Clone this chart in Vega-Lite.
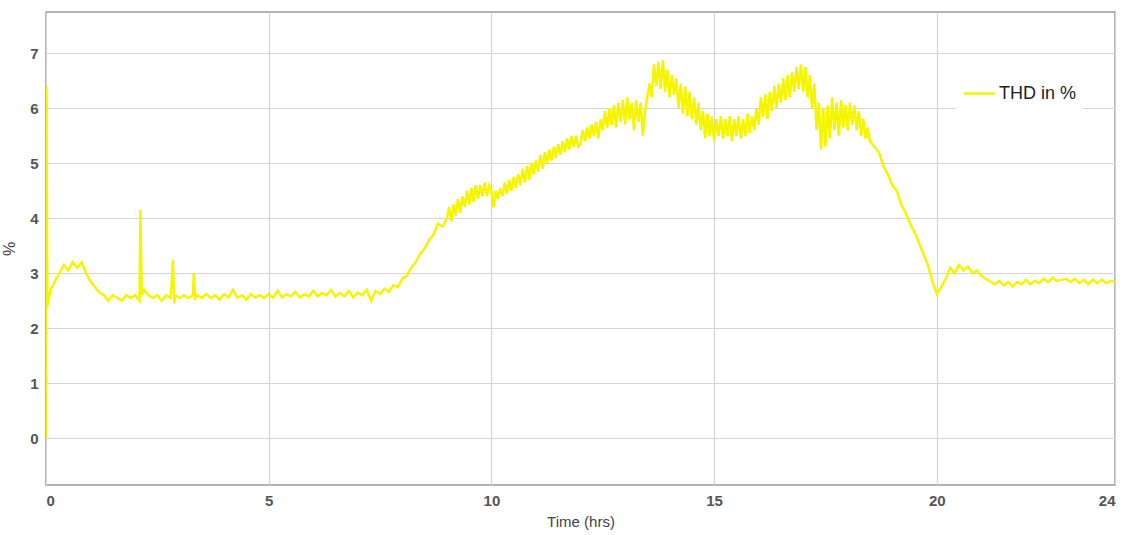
{
  "$schema": "https://vega.github.io/schema/vega-lite/v6.json",
  "autosize": {"type": "none"},
  "width": 1069,
  "height": 473,
  "padding": {"left": 46, "top": 12, "right": 13, "bottom": 50},
  "background": "white",
  "config": {
    "view": {"stroke": "#9a9a9a", "strokeWidth": 1.5},
    "font": "Liberation Sans"
  },
  "data": {"values": [
    {"t":0,"v":0},{"t":0.01,"v":6.4},{"t":0.03,"v":2.4},{"t":0.1,"v":2.7},{"t":0.2,"v":2.85},{"t":0.3,"v":3.0},{"t":0.4,"v":3.15},{"t":0.5,"v":3.05},{"t":0.6,"v":3.2},{"t":0.7,"v":3.1},{"t":0.8,"v":3.2},{"t":0.9,"v":3.0},
    {"t":1.0,"v":2.85},{"t":1.1,"v":2.75},{"t":1.2,"v":2.65},{"t":1.3,"v":2.6},{"t":1.4,"v":2.5},{"t":1.5,"v":2.6},{"t":1.6,"v":2.55},{"t":1.7,"v":2.5},{"t":1.8,"v":2.6},{"t":1.9,"v":2.55},
    {"t":2.0,"v":2.6},{"t":2.1,"v":2.5},{"t":2.12,"v":4.15},{"t":2.15,"v":2.6},{"t":2.2,"v":2.7},{"t":2.3,"v":2.6},{"t":2.4,"v":2.55},{"t":2.5,"v":2.6},{"t":2.6,"v":2.5},{"t":2.7,"v":2.6},{"t":2.8,"v":2.55},{"t":2.85,"v":3.25},{"t":2.88,"v":2.45},{"t":2.9,"v":2.6},
    {"t":3.0,"v":2.55},{"t":3.1,"v":2.6},{"t":3.2,"v":2.55},{"t":3.3,"v":2.6},{"t":3.32,"v":3.0},{"t":3.35,"v":2.55},{"t":3.4,"v":2.6},{"t":3.5,"v":2.55},{"t":3.6,"v":2.62},{"t":3.7,"v":2.55},{"t":3.8,"v":2.6},{"t":3.9,"v":2.52},
    {"t":4.0,"v":2.62},{"t":4.1,"v":2.56},{"t":4.2,"v":2.7},{"t":4.3,"v":2.55},{"t":4.4,"v":2.6},{"t":4.5,"v":2.52},{"t":4.6,"v":2.62},{"t":4.7,"v":2.56},{"t":4.8,"v":2.6},{"t":4.9,"v":2.55},
    {"t":5.0,"v":2.62},{"t":5.1,"v":2.55},{"t":5.2,"v":2.68},{"t":5.3,"v":2.56},{"t":5.4,"v":2.62},{"t":5.5,"v":2.58},{"t":5.6,"v":2.66},{"t":5.7,"v":2.56},{"t":5.8,"v":2.62},{"t":5.9,"v":2.58},
    {"t":6.0,"v":2.68},{"t":6.1,"v":2.58},{"t":6.2,"v":2.64},{"t":6.3,"v":2.6},{"t":6.4,"v":2.7},{"t":6.5,"v":2.58},{"t":6.6,"v":2.64},{"t":6.7,"v":2.58},{"t":6.8,"v":2.68},{"t":6.9,"v":2.56},
    {"t":7.0,"v":2.65},{"t":7.1,"v":2.6},{"t":7.2,"v":2.7},{"t":7.3,"v":2.5},{"t":7.4,"v":2.68},{"t":7.5,"v":2.62},{"t":7.6,"v":2.72},{"t":7.7,"v":2.66},{"t":7.8,"v":2.78},{"t":7.9,"v":2.75},
    {"t":8.0,"v":2.9},{"t":8.1,"v":2.95},{"t":8.2,"v":3.1},{"t":8.3,"v":3.2},{"t":8.4,"v":3.35},{"t":8.5,"v":3.45},{"t":8.6,"v":3.6},{"t":8.7,"v":3.7},{"t":8.8,"v":3.9},{"t":8.9,"v":3.85},
    {"t":9.0,"v":4.0},{"t":9.05,"v":4.2},{"t":9.1,"v":3.95},{"t":9.15,"v":4.25},{"t":9.2,"v":4.05},{"t":9.25,"v":4.35},{"t":9.3,"v":4.1},{"t":9.35,"v":4.4},{"t":9.4,"v":4.2},{"t":9.45,"v":4.5},
    {"t":9.5,"v":4.25},{"t":9.55,"v":4.55},{"t":9.6,"v":4.3},{"t":9.65,"v":4.6},{"t":9.7,"v":4.35},{"t":9.75,"v":4.6},{"t":9.8,"v":4.4},{"t":9.85,"v":4.65},{"t":9.9,"v":4.4},{"t":9.95,"v":4.6},
    {"t":10.0,"v":4.5},{"t":10.05,"v":4.2},{"t":10.1,"v":4.5},{"t":10.15,"v":4.35},{"t":10.2,"v":4.55},{"t":10.25,"v":4.4},{"t":10.3,"v":4.65},{"t":10.35,"v":4.45},{"t":10.4,"v":4.7},{"t":10.45,"v":4.5},
    {"t":10.5,"v":4.75},{"t":10.55,"v":4.55},{"t":10.6,"v":4.8},{"t":10.65,"v":4.6},{"t":10.7,"v":4.9},{"t":10.75,"v":4.65},{"t":10.8,"v":4.95},{"t":10.85,"v":4.7},{"t":10.9,"v":5.0},{"t":10.95,"v":4.8},
    {"t":11.0,"v":5.05},{"t":11.05,"v":4.85},{"t":11.1,"v":5.15},{"t":11.15,"v":4.9},{"t":11.2,"v":5.2},{"t":11.25,"v":5.0},{"t":11.3,"v":5.25},{"t":11.35,"v":5.05},{"t":11.4,"v":5.3},{"t":11.45,"v":5.1},
    {"t":11.5,"v":5.35},{"t":11.55,"v":5.15},{"t":11.6,"v":5.4},{"t":11.65,"v":5.2},{"t":11.7,"v":5.45},{"t":11.75,"v":5.25},{"t":11.8,"v":5.5},{"t":11.85,"v":5.3},{"t":11.9,"v":5.5},{"t":11.95,"v":5.3},
    {"t":12.0,"v":5.35},{"t":12.05,"v":5.6},{"t":12.1,"v":5.4},{"t":12.15,"v":5.65},{"t":12.2,"v":5.45},{"t":12.25,"v":5.7},{"t":12.3,"v":5.5},{"t":12.35,"v":5.75},{"t":12.4,"v":5.45},{"t":12.45,"v":5.8},
    {"t":12.5,"v":5.6},{"t":12.55,"v":5.95},{"t":12.6,"v":5.65},{"t":12.65,"v":6.0},{"t":12.7,"v":5.7},{"t":12.75,"v":6.05},{"t":12.8,"v":5.65},{"t":12.85,"v":6.1},{"t":12.9,"v":5.75},{"t":12.95,"v":6.15},
    {"t":13.0,"v":5.7},{"t":13.05,"v":6.2},{"t":13.1,"v":5.8},{"t":13.15,"v":6.1},{"t":13.2,"v":5.6},{"t":13.25,"v":6.15},{"t":13.3,"v":5.75},{"t":13.35,"v":6.1},{"t":13.4,"v":5.5},{"t":13.45,"v":5.95},
    {"t":13.5,"v":6.2},{"t":13.55,"v":6.45},{"t":13.6,"v":6.2},{"t":13.65,"v":6.8},{"t":13.7,"v":6.4},{"t":13.75,"v":6.85},{"t":13.8,"v":6.35},{"t":13.85,"v":6.87},{"t":13.9,"v":6.3},{"t":13.95,"v":6.7},
    {"t":14.0,"v":6.2},{"t":14.05,"v":6.6},{"t":14.1,"v":6.25},{"t":14.15,"v":6.55},{"t":14.2,"v":6.0},{"t":14.25,"v":6.45},{"t":14.3,"v":5.9},{"t":14.35,"v":6.4},{"t":14.4,"v":5.85},{"t":14.45,"v":6.3},
    {"t":14.5,"v":5.8},{"t":14.55,"v":6.2},{"t":14.6,"v":5.7},{"t":14.65,"v":6.1},{"t":14.7,"v":5.6},{"t":14.75,"v":5.95},{"t":14.8,"v":5.45},{"t":14.85,"v":5.9},{"t":14.9,"v":5.5},{"t":14.95,"v":5.85},
    {"t":15.0,"v":5.4},{"t":15.05,"v":5.8},{"t":15.1,"v":5.5},{"t":15.15,"v":5.85},{"t":15.2,"v":5.45},{"t":15.25,"v":5.8},{"t":15.3,"v":5.5},{"t":15.35,"v":5.85},{"t":15.4,"v":5.4},{"t":15.45,"v":5.8},
    {"t":15.5,"v":5.5},{"t":15.55,"v":5.85},{"t":15.6,"v":5.45},{"t":15.65,"v":5.8},{"t":15.7,"v":5.5},{"t":15.75,"v":5.9},{"t":15.8,"v":5.55},{"t":15.85,"v":5.85},{"t":15.9,"v":5.6},{"t":15.95,"v":6.0},
    {"t":16.0,"v":5.7},{"t":16.05,"v":6.2},{"t":16.1,"v":5.85},{"t":16.15,"v":6.25},{"t":16.2,"v":5.8},{"t":16.25,"v":6.3},{"t":16.3,"v":5.95},{"t":16.35,"v":6.4},{"t":16.4,"v":6.0},{"t":16.45,"v":6.45},
    {"t":16.5,"v":6.1},{"t":16.55,"v":6.55},{"t":16.6,"v":6.15},{"t":16.65,"v":6.6},{"t":16.7,"v":6.2},{"t":16.75,"v":6.65},{"t":16.8,"v":6.3},{"t":16.85,"v":6.75},{"t":16.9,"v":6.35},{"t":16.95,"v":6.8},
    {"t":17.0,"v":6.3},{"t":17.05,"v":6.75},{"t":17.1,"v":6.2},{"t":17.15,"v":6.6},{"t":17.2,"v":6.0},{"t":17.25,"v":6.45},{"t":17.3,"v":5.6},{"t":17.35,"v":6.1},{"t":17.4,"v":5.25},{"t":17.45,"v":6.0},
    {"t":17.5,"v":5.3},{"t":17.55,"v":6.05},{"t":17.6,"v":5.45},{"t":17.65,"v":6.2},{"t":17.7,"v":5.6},{"t":17.75,"v":6.1},{"t":17.8,"v":5.5},{"t":17.85,"v":6.15},{"t":17.9,"v":5.65},{"t":17.95,"v":6.05},
    {"t":18.0,"v":5.6},{"t":18.05,"v":6.1},{"t":18.1,"v":5.7},{"t":18.15,"v":6.05},{"t":18.2,"v":5.6},{"t":18.25,"v":5.95},{"t":18.3,"v":5.5},{"t":18.35,"v":5.8},{"t":18.4,"v":5.45},{"t":18.45,"v":5.65},
    {"t":18.5,"v":5.4},{"t":18.6,"v":5.3},{"t":18.7,"v":5.2},{"t":18.8,"v":4.95},{"t":18.9,"v":4.8},
    {"t":19.0,"v":4.6},{"t":19.1,"v":4.5},{"t":19.2,"v":4.25},{"t":19.3,"v":4.1},{"t":19.4,"v":3.9},{"t":19.5,"v":3.75},{"t":19.6,"v":3.55},{"t":19.7,"v":3.35},{"t":19.8,"v":3.15},{"t":19.9,"v":2.85},
    {"t":20.0,"v":2.62},{"t":20.1,"v":2.75},{"t":20.2,"v":2.9},{"t":20.3,"v":3.1},{"t":20.4,"v":3.0},{"t":20.5,"v":3.15},{"t":20.6,"v":3.05},{"t":20.7,"v":3.12},{"t":20.8,"v":3.0},{"t":20.9,"v":3.05},
    {"t":21.0,"v":2.95},{"t":21.1,"v":2.9},{"t":21.2,"v":2.85},{"t":21.3,"v":2.8},{"t":21.4,"v":2.86},{"t":21.5,"v":2.78},{"t":21.6,"v":2.84},{"t":21.7,"v":2.76},{"t":21.8,"v":2.84},{"t":21.9,"v":2.8},
    {"t":22.0,"v":2.88},{"t":22.1,"v":2.8},{"t":22.2,"v":2.86},{"t":22.3,"v":2.82},{"t":22.4,"v":2.9},{"t":22.5,"v":2.84},{"t":22.6,"v":2.92},{"t":22.7,"v":2.86},{"t":22.8,"v":2.88},{"t":22.9,"v":2.9},
    {"t":23.0,"v":2.84},{"t":23.1,"v":2.9},{"t":23.2,"v":2.82},{"t":23.3,"v":2.88},{"t":23.4,"v":2.8},{"t":23.5,"v":2.88},{"t":23.6,"v":2.82},{"t":23.7,"v":2.88},{"t":23.8,"v":2.82},{"t":23.9,"v":2.86},{"t":24.0,"v":2.84}
  ]},
  "mark": {"type": "line", "strokeWidth": 2.5, "clip": true},
  "encoding": {
    "x": {
      "field": "t", "type": "quantitative",
      "scale": {"domain": [0, 24], "nice": false, "zero": false},
      "axis": {
        "title": "Time (hrs)", "titleFontSize": 15, "titleFontWeight": "normal", "titleColor": "#444444", "titlePadding": 6,
        "values": [0, 5, 10, 15, 20, 24], "labelFontSize": 15, "labelColor": "#555555", "labelPadding": 8, "labelFontWeight": "bold",
        "domain": false, "ticks": false, "grid": true, "gridColor": "#d4d4d4", "gridWidth": 1.2
      }
    },
    "y": {
      "field": "v", "type": "quantitative",
      "scale": {"domain": [-0.85, 7.75], "nice": false, "zero": false},
      "axis": {
        "title": "%", "titleFontSize": 16, "titleFontWeight": "normal", "titleColor": "#444444", "titlePadding": 12,
        "values": [0, 1, 2, 3, 4, 5, 6, 7], "labelFontSize": 15, "labelColor": "#555555", "labelPadding": 8, "labelFontWeight": "bold",
        "domain": false, "ticks": false, "grid": true, "gridColor": "#d4d4d4", "gridWidth": 1.2
      }
    },
    "color": {
      "datum": "THD in %", "type": "nominal",
      "scale": {"range": ["#f5f500"]},
      "legend": {
        "title": null, "orient": "none", "legendX": 910, "legendY": 58,
        "symbolType": "stroke", "symbolSize": 1000, "symbolStrokeWidth": 2.5,
        "labelFontSize": 18, "labelColor": "#222222", "labelOffset": 2,
        "fillColor": "white", "padding": 6
      }
    }
  }
}
